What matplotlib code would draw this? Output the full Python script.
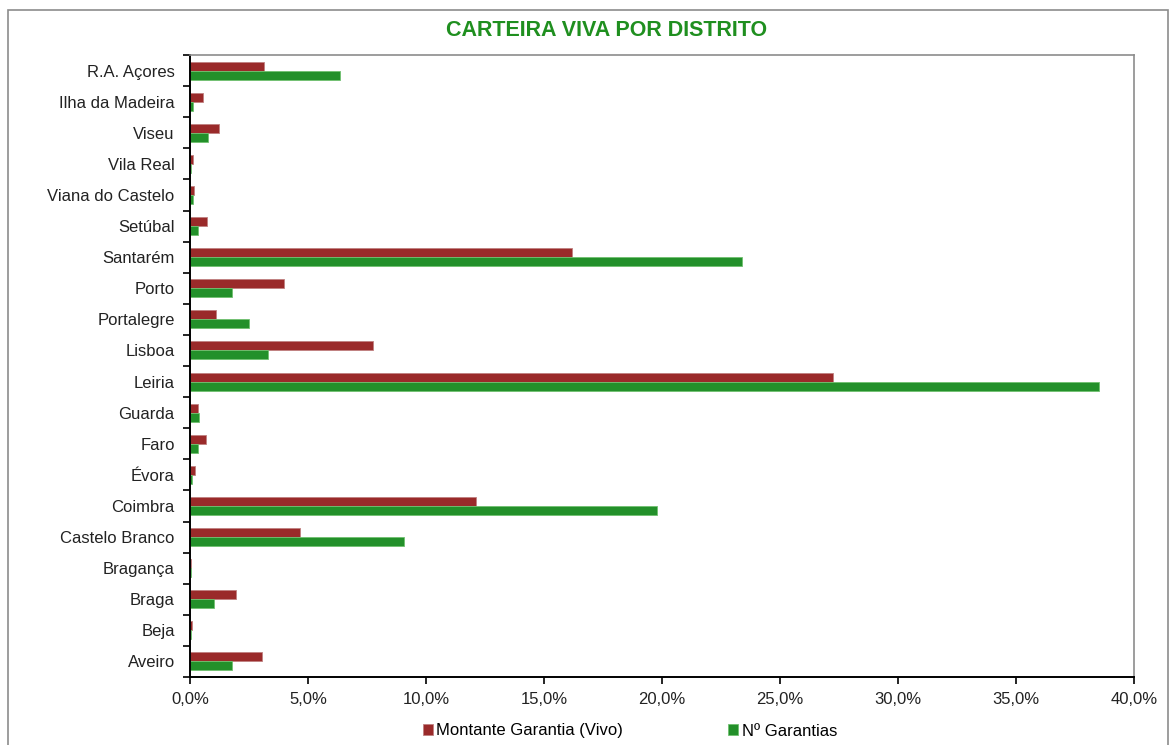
import matplotlib.pyplot as plt
import numpy as np
from matplotlib.patches import Rectangle
from matplotlib.ticker import FuncFormatter, MultipleLocator

plt.rcParams["font.family"] = ["Liberation Sans", "DejaVu Sans"]

districts = [
    "Aveiro", "Beja", "Braga", "Bragança", "Castelo Branco", "Coimbra",
    "Évora", "Faro", "Guarda", "Leiria", "Lisboa", "Portalegre", "Porto",
    "Santarém", "Setúbal", "Viana do Castelo", "Vila Real", "Viseu",
    "Ilha da Madeira", "R.A. Açores",
]
montante = [3.05, 0.10, 1.95, 0.03, 4.67, 12.1, 0.20, 0.67, 0.33, 27.25,
            7.76, 1.10, 4.00, 16.2, 0.70, 0.17, 0.12, 1.24, 0.55, 3.14]
n_garantias = [1.80, 0.03, 1.03, 0.03, 9.07, 19.8, 0.10, 0.33, 0.38, 38.5,
               3.30, 2.50, 1.80, 23.4, 0.33, 0.12, 0.05, 0.76, 0.13, 6.36]

red = "#9a2a2a"
green = "#23902a"

fig = plt.figure(figsize=(11.76, 7.45), dpi=100)
ax = fig.add_axes([190 / 1176, 1 - 677 / 745, (1134 - 190) / 1176, (677 - 55) / 745])

# outer chart frame
fig.patches.append(Rectangle((8 / 1176, -0.02), (1168 - 8) / 1176, 1 - 10 / 745 + 0.02,
                             transform=fig.transFigure, fill=False,
                             edgecolor="#8c8c8c", linewidth=1.2))

y = np.arange(len(districts))
h = 0.29
ax.barh(y + h / 2, montante, height=h, color=red, edgecolor="#c08080",
        linewidth=0.6, label="Montante Garantia (Vivo)")
ax.barh(y - h / 2, n_garantias, height=h, color=green, edgecolor="#70c070",
        linewidth=0.6, label="Nº Garantias")

ax.set_xlim(0, 40)
ax.set_ylim(-0.5, len(districts) - 0.5)
ax.xaxis.set_major_locator(MultipleLocator(5))
ax.xaxis.set_major_formatter(FuncFormatter(lambda v, p: f"{v:.1f}%".replace(".", ",")))

ax.set_yticks(y)
ax.set_yticklabels(districts)
ax.set_yticks(np.arange(len(districts) + 1) - 0.5, minor=True)
ax.tick_params(axis="y", which="major", length=0, pad=11, labelsize=12, colors="#222222")
ax.tick_params(axis="y", which="minor", length=5, width=1.2, direction="out")
ax.tick_params(axis="x", length=5, width=1.2, direction="out", labelsize=12,
               colors="#222222", pad=6)
ax.tick_params(axis="both", which="both", color="black")

for side in ["top", "right"]:
    ax.spines[side].set_color("#8c8c8c")
    ax.spines[side].set_linewidth(1.2)
for side in ["left", "bottom"]:
    ax.spines[side].set_color("black")
    ax.spines[side].set_linewidth(1.4)

fig.text(607 / 1176, 1 - 30 / 745, "CARTEIRA VIVA POR DISTRITO", color="#1f8f1f",
         fontsize=15.5, fontweight="bold", ha="center", va="center")

fig.legend(loc="center", bbox_to_anchor=(630 / 1176, 1 - 731 / 745), ncol=2,
           frameon=False, fontsize=12, handlelength=0.6, handleheight=0.6,
           handletextpad=0.2, columnspacing=6.3)

fig.savefig("out.png", dpi=100)
